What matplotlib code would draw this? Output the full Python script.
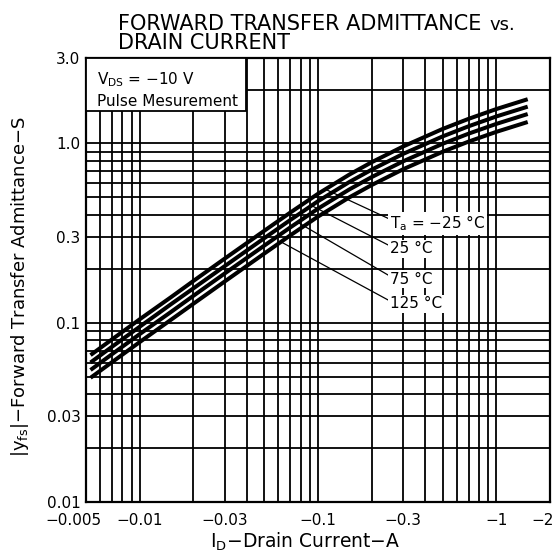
import numpy as np
import matplotlib
matplotlib.use("Agg")
import matplotlib.pyplot as plt
from matplotlib.patches import Rectangle
from matplotlib.transforms import ScaledTranslation
from matplotlib.ticker import LogLocator, NullFormatter, FixedLocator, FixedFormatter

plt.rcParams['font.family'] = ['DejaVu Sans']
plt.rcParams['mathtext.default'] = 'regular'

### data (drain current in A, |yfs| in S)
i_d = [-0.0053, -0.007, -0.01, -0.015, -0.02, -0.03, -0.05, -0.07,
       -0.1, -0.15, -0.2, -0.3, -0.5, -0.7, -1.0, -1.5]
yfs_m25 = [0.066, 0.0808, 0.1045, 0.139, 0.171, 0.228, 0.326, 0.412,
           0.524, 0.671, 0.786, 0.962, 1.205, 1.373, 1.556, 1.766]
yfs_25 = [0.060, 0.0735, 0.095, 0.127, 0.1555, 0.207, 0.2964, 0.3745,
          0.4764, 0.610, 0.7145, 0.8745, 1.095, 1.248, 1.415, 1.605]
yfs_75 = [0.0545, 0.0668, 0.0864, 0.115, 0.1413, 0.1884, 0.2694, 0.3405,
          0.433, 0.5545, 0.6495, 0.795, 0.996, 1.135, 1.286, 1.46]
yfs_125 = [0.0493, 0.0603, 0.078, 0.104, 0.1276, 0.170, 0.2433, 0.3075,
           0.391, 0.5007, 0.5864, 0.718, 0.899, 1.025, 1.161, 1.318]

curve_labels = ["T$_a$ = \u221225 \u00b0C", "25 \u00b0C", "75 \u00b0C", "125 \u00b0C"]
leader_x = [-0.11, -0.092, -0.077, -0.062]   # where each leader touches its curve

x_ticks = [-0.005, -0.01, -0.03, -0.1, -0.3, -1, -2]
x_tick_labels = ["\u22120.005", "\u22120.01", "\u22120.03", "\u22120.1", "\u22120.3", "\u22121", "\u22122"]
y_ticks = [0.01, 0.03, 0.1, 0.3, 1.0, 3.0]
y_tick_labels = ["0.01", "0.03", "0.1", "0.3", "1.0", "3.0"]

### plot details
fs = 11
lw_curve = 2.9
lw_grid = 1.3

fig = plt.figure(figsize=(5.57, 5.53), dpi=100)
ax = fig.add_axes([0.1544, 0.0922, 0.833, 0.803])

x = -np.array(i_d)
series = [yfs_m25, yfs_25, yfs_75, yfs_125]
for ys in series:
    ax.plot(x, ys, color="black", linewidth=lw_curve, solid_capstyle="butt", zorder=2.5)

ax.set_xscale("log")
ax.set_yscale("log")
ax.set_xlim(0.005, 2)
ax.set_ylim(0.01, 3.0)

ax.xaxis.set_major_locator(FixedLocator([-v for v in x_ticks]))
ax.xaxis.set_major_formatter(FixedFormatter(x_tick_labels))
ax.yaxis.set_major_locator(FixedLocator(y_ticks))
ax.yaxis.set_major_formatter(FixedFormatter(y_tick_labels))
ax.xaxis.set_minor_locator(LogLocator(base=10, subs=np.arange(1, 10), numticks=50))
ax.yaxis.set_minor_locator(LogLocator(base=10, subs=np.arange(1, 10), numticks=50))
ax.xaxis.set_minor_formatter(NullFormatter())
ax.yaxis.set_minor_formatter(NullFormatter())
ax.tick_params(which="both", length=0)
ax.tick_params(axis="x", pad=8, labelsize=fs)
ax.tick_params(axis="y", pad=4, labelsize=fs)
ax.grid(True, which="both", color="black", linewidth=lw_grid)
for sp in ax.spines.values():
    sp.set_linewidth(1.6)

# end labels sit a bit to the left, like on the sheet
xl = ax.get_xticklabels()
xl[0].set_transform(xl[0].get_transform() + ScaledTranslation(-0.13, 0, fig.dpi_scale_trans))
xl[-1].set_transform(xl[-1].get_transform() + ScaledTranslation(-0.07, 0, fig.dpi_scale_trans))

# condition box in the upper left corner
ax.add_patch(Rectangle((0, 0.8806), 0.3448, 0.1194, transform=ax.transAxes,
                       facecolor="white", edgecolor="black", linewidth=1.3,
                       zorder=3, clip_on=False))
ax.text(0.024, 0.952, "V$_{DS}$ = \u221210 V", transform=ax.transAxes,
        fontsize=fs, va="center", ha="left", zorder=4)
ax.text(0.024, 0.902, "Pulse Mesurement", transform=ax.transAxes,
        fontsize=fs, va="center", ha="left", zorder=4)

# temperature labels with leader lines
label_y = [0.628, 0.570, 0.502, 0.446]
for lab, xlead, ys, ly in zip(curve_labels, leader_x, series, label_y):
    yl = 10 ** np.interp(np.log10(-xlead), np.log10(x), np.log10(ys))
    ax.annotate(lab, xy=(-xlead, yl), xycoords="data",
                xytext=(0.655, ly), textcoords="axes fraction",
                fontsize=fs, ha="left", va="center", zorder=4,
                bbox=dict(boxstyle="square,pad=0.1", fc="white", ec="none"),
                arrowprops=dict(arrowstyle="-", color="black", lw=0.9,
                                shrinkA=0, shrinkB=0, relpos=(0, 0.7)))

# titles and axis labels
t1 = fig.text(118 / 557, 1 - 24 / 553, "FORWARD TRANSFER ADMITTANCE",
              fontsize=15, va="center", ha="left")
fig.text(118 / 557, 1 - 43 / 553, "DRAIN CURRENT", fontsize=15, va="center", ha="left")
renderer = fig.canvas.get_renderer()
bb = t1.get_window_extent(renderer)
fig.text((bb.x1 + 8) / fig.bbox.width, 1 - 25 / 553, "vs.", fontsize=13,
         va="center", ha="left")

fig.text(305 / 557, 1 - 542 / 553, "I$_D$\u2212Drain Current\u2212A",
         fontsize=13.5, ha="center", va="center")
fig.text(20 / 557, 1 - 287 / 553, "|y$_{fs}$|\u2212Forward Transfer Admittance\u2212S",
         fontsize=13, ha="center", va="center", rotation=90)

fig.savefig("out.png", dpi=100)
